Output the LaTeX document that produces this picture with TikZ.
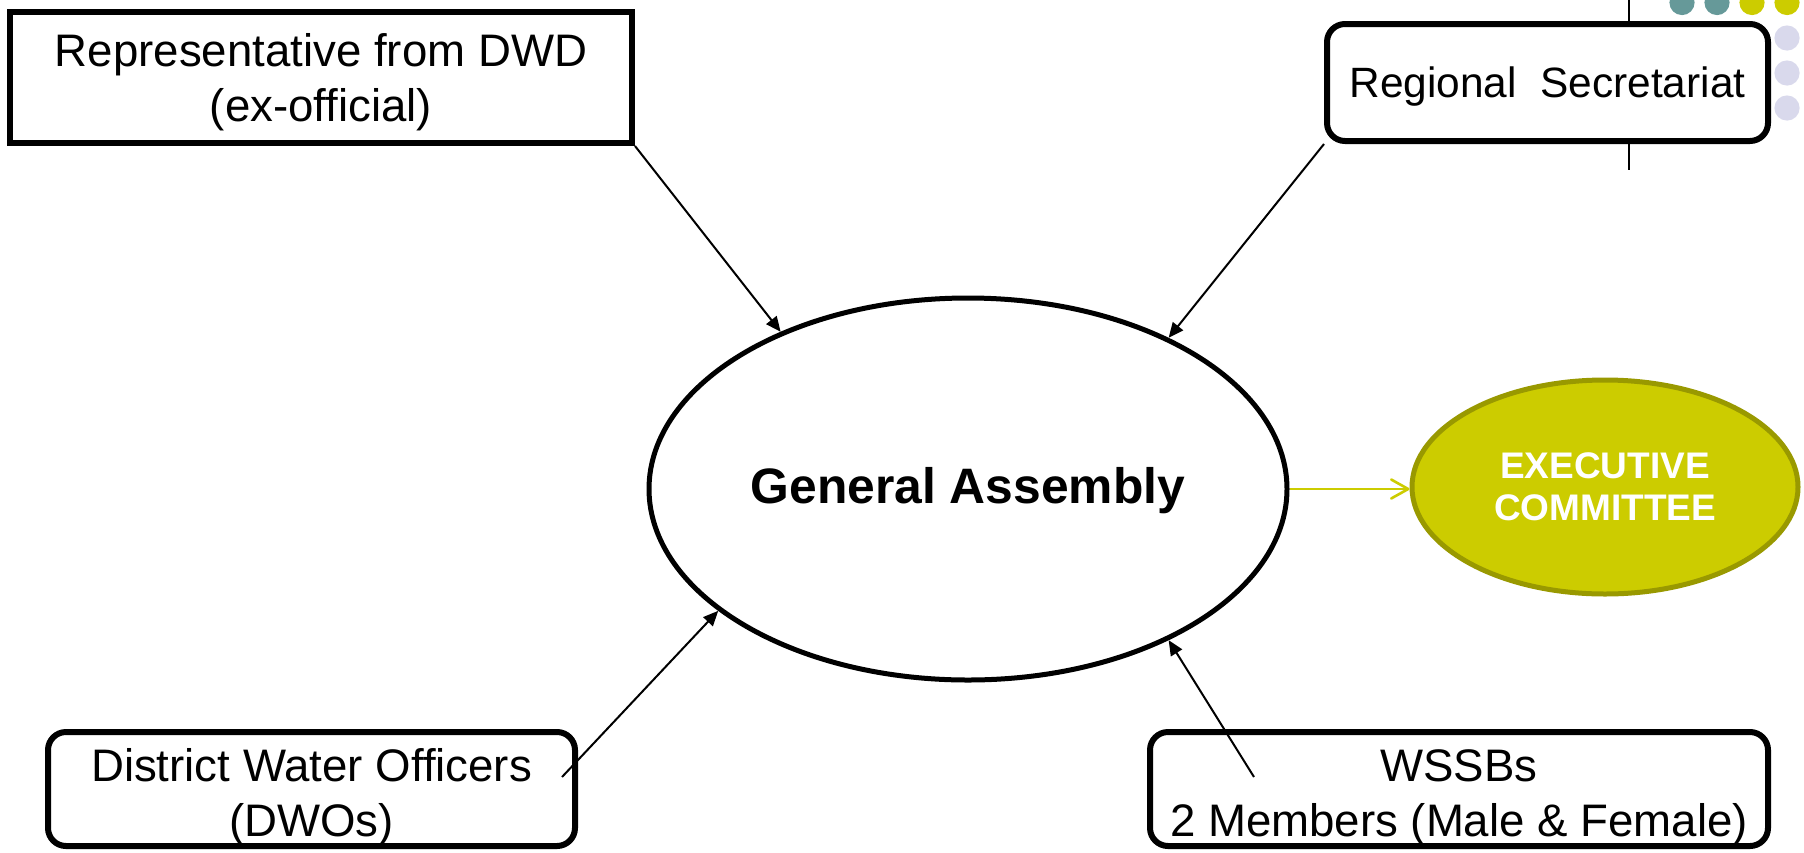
\documentclass[tikz,border=0pt]{standalone}
\usepackage{fontspec}
\setmainfont{Liberation Sans}
\usetikzlibrary{shapes.geometric,arrows.meta}
\definecolor{oliveA}{HTML}{CCCC00}
\definecolor{oliveB}{HTML}{999900}
\definecolor{tealA}{HTML}{669999}
\definecolor{lavA}{HTML}{D9D9EC}
\newcommand{\lowtext}[2]{\raisebox{#1}[\height][\depth]{\begin{tabular}{@{}c@{}}#2\end{tabular}}}
\begin{document}
\begin{tikzpicture}[x=0.5pt,y=-0.5pt,
  boxtext/.style={font=\fontsize{22.8}{27.5}\selectfont, align=center, inner sep=0pt},
  sqbox/.style={boxtext, draw, line width=3pt, fill=white, rectangle},
  rbox/.style={boxtext, draw, line width=3pt, fill=white, rectangle, rounded corners=9pt},
  conn/.style={line width=1pt, -{Triangle[length=7.5pt,width=6.5pt]}},
]
\useasboundingbox (0,0) rectangle (1804,852);
% decorative vertical line behind the regional box
\draw[line width=1pt] (1629,0) -- (1629,170);
% boxes
\node[sqbox, minimum width=311pt, minimum height=65.5pt] (b1) at (321,77.5)
  {\lowtext{-2.9pt}{Representative from DWD\\(ex-official)}};
\node[rbox, minimum width=220.5pt, minimum height=58.5pt, font=\fontsize{21.2}{26}\selectfont] (rs) at (1547.5,82.5)
  {\lowtext{-2.3pt}{Regional\ \ Secretariat}};
\node[rbox, minimum width=263.5pt, minimum height=57pt] (dwo) at (311.5,789)
  {\lowtext{-4.6pt}{District Water Officers\\(DWOs)}};
\node[rbox, minimum width=309pt, minimum height=57pt] (wssb) at (1459,789)
  {\lowtext{-4.6pt}{WSSBs\\2 Members (Male \& Female)}};
% ellipses
\node[ellipse, draw, line width=2.5pt, minimum width=319pt, minimum height=191pt, inner sep=0pt,
      font=\bfseries\fontsize{24.9}{30}\selectfont] (ga) at (968,489) {\lowtext{-1pt}{General Assembly}};
\node[ellipse, draw=oliveB, fill=oliveA, line width=2.5pt, minimum width=193pt, minimum height=107pt,
      inner sep=0pt, text=white, align=center, font=\bfseries\fontsize{18.5}{21}\selectfont] (ec) at (1605,487) {EXECUTIVE\\COMMITTEE};
% connectors
\coordinate (t3) at (562,777);
\coordinate (t4) at (1254,777);
\draw[conn] (b1.south east) -- (ga.140.9);
\draw[conn] (rs.south west) -- (ga.37.9);
\draw[conn] (t3) -- (ga.206.4);
\draw[conn] (t4) -- (ga.323.1);
\draw[oliveA, line width=1.3pt, -{Straight Barb[length=8.5pt,width=9.5pt,round]}] (ga.east) -- (ga.east -| ec.west);
% decorative dots
\foreach \x/\c in {1682/tealA,1717/tealA,1752/oliveA,1787/oliveA}
  \fill[\c] (\x,2.5) circle[radius=6.3pt];
\foreach \y in {38,73,108}
  \fill[lavA] (1787,\y) circle[radius=6.3pt];
\end{tikzpicture}
\end{document}
